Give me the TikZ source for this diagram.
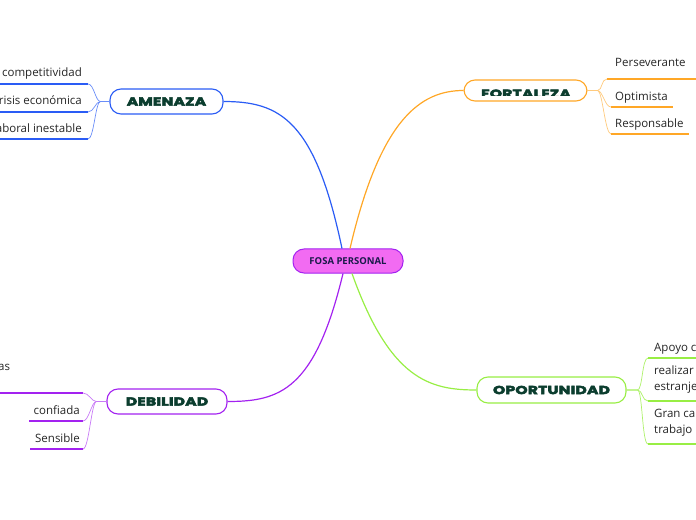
\documentclass[tikz,border=0pt]{standalone}
\usepackage{fontspec}
\setmainfont{Open Sans}
\newfontfamily\headfont[LetterSpace=2,FakeBold=4.5,FakeStretch=1.35]{Poppins}
\definecolor{inkgreen}{HTML}{0B3D2E}
\definecolor{amblue}{HTML}{2A5CF5}
\definecolor{fororange}{HTML}{FFA726}
\definecolor{debpurple}{HTML}{A322F0}
\definecolor{opgreen}{HTML}{98EE44}
\definecolor{centerfill}{HTML}{F26BF2}
\definecolor{navy}{HTML}{1A1A4A}
\begin{document}
\begin{tikzpicture}[x=1bp,y=-1bp,
	topic/.style={draw, line width=1.1bp, fill=white, rounded corners=11bp, inner sep=0pt,
		font=\headfont\bfseries\fontsize{11.5bp}{12bp}\selectfont, text=inkgreen},
	leaf/.style={inner sep=0pt, font=\fontsize{11.5bp}{16bp}\selectfont, text=black!85, align=left},
	branch/.style={line width=1.2bp},
	twig/.style={line width=0.7bp},
	under/.style={line width=1.5bp}
	]
	\useasboundingbox (0,0) rectangle (696,520);
	\clip (0,0) rectangle (696,520);
	% centre
	\node [draw=debpurple, line width=1bp, fill=centerfill, rounded corners=11bp,
		minimum width=110bp, minimum height=24bp, inner sep=0pt,
		font=\bfseries\fontsize{9.5bp}{10bp}\selectfont, text=navy] (fosa) at (348,261) {FOSA PERSONAL};
	% main topics
	\node [topic, draw=amblue, minimum width=113bp, minimum height=25bp] (amenaza) at (166.5,101.5) {AMENAZA};
	\node [topic, draw=fororange, minimum width=123bp, minimum height=21bp] (fortaleza) at (525.5,90.5) {};
	\begin{scope}
		\clip ([shift={(1bp,1bp)}]fortaleza.north west) rectangle (590,96);
		\node [topic, draw=none, fill=none, anchor=north, inner sep=0pt] (fortext) at (526,89) {FORTALEZA};
	\end{scope}
	\node [topic, draw=debpurple, minimum width=120bp, minimum height=25bp] (debilidad) at (167,401.5) {DEBILIDAD};
	\node [topic, draw=opgreen, minimum width=149bp, minimum height=26bp] (oportunidad) at (551.5,390) {OPORTUNIDAD};
	% branches
	\draw [branch, amblue] ([xshift=-6bp]fosa.north) .. controls (315,120) and (280,101.5) .. (amenaza.east);
	\draw [branch, fororange] ([xshift=2bp]fosa.north) .. controls (380,120) and (420,90.5) .. (fortaleza.west);
	\draw [branch, debpurple] ([xshift=-5bp]fosa.south) .. controls (315,390) and (280,401.5) .. (debilidad.east);
	\draw [branch, opgreen] ([xshift=4bp]fosa.south) .. controls (390,380) and (430,390) .. (oportunidad.west);
	% amenaza leaves
	\coordinate (a1) at (88,84);   \coordinate (a1l) at (0,84);
	\coordinate (a2) at (88,112);  \coordinate (a2l) at (0,112);
	\coordinate (a3) at (88,139);  \coordinate (a3l) at (0,139);
	\node [leaf, anchor=base east] (comp) at (82,77) {competitividad};
	\node [leaf, anchor=base east] (crisis) at (82,105) {Crisis económica};
	\node [leaf, anchor=base east] (laboral) at (82,133) {laboral inestable};
	\foreach \e/\l in {a1/a1l, a2/a2l, a3/a3l}
		\draw [under, amblue] (\l) -- (\e);
	\foreach \e in {a1, a2, a3}
		\draw [twig, amblue!70] (amenaza.west) -- ++(-9,0) .. controls +(-5,0) and ([xshift=6bp]\e) .. (\e);
	% fortaleza leaves
	\coordinate (f1) at (607,79);  \coordinate (f1r) at (696,79);
	\coordinate (f2) at (611,107); \coordinate (f2r) at (673,107);
	\coordinate (f3) at (611,134); \coordinate (f3r) at (689,134);
	\node [leaf, anchor=base west] (persev) at (615,67) {Perseverante};
	\node [leaf, anchor=base west] (optim) at (615,101) {Optimista};
	\node [leaf, anchor=base west] (respon) at (615,128) {Responsable};
	\foreach \e/\r in {f1/f1r, f2/f2r, f3/f3r}
		\draw [under, fororange] (\e) -- (\r);
	\foreach \e in {f1, f2, f3}
		\draw [twig, fororange!60] (fortaleza.east) -- ++(10,0) .. controls +(5,0) and ([xshift=-6bp]\e) .. (\e);
	% debilidad leaves
	\coordinate (d1) at (83,393);  \coordinate (d1l) at (0,393);
	\coordinate (d2) at (83,421);  \coordinate (d2l) at (29,421);
	\coordinate (d3) at (83,449);  \coordinate (d3l) at (30,449);
	\node [leaf, anchor=base west] (das) at (-2,370) {as};
	\node [leaf, anchor=base east] (confiada) at (80,414) {confiada};
	\node [leaf, anchor=base east] (sensible) at (80,442) {Sensible};
	\foreach \e/\l in {d1/d1l, d2/d2l, d3/d3l}
		\draw [under, debpurple] (\l) -- (\e);
	\foreach \e in {d1, d2, d3}
		\draw [twig, debpurple!60] (debilidad.west) -- ++(-10,0) .. controls +(-5,0) and ([xshift=6bp]\e) .. (\e);
	% oportunidad leaves
	\coordinate (o1) at (648,358); \coordinate (o1r) at (696,358);
	\coordinate (o2) at (648,401); \coordinate (o2r) at (696,401);
	\coordinate (o3) at (648,444); \coordinate (o3r) at (696,444);
	\node [leaf, anchor=base west] (apoyo) at (654,351) {Apoyo c};
	\node [leaf, anchor=north west] (realizar) at (654,366) {realizar\\estranje};
	\node [leaf, anchor=north west] (gran) at (654,409) {Gran ca\\trabajo};
	\foreach \e/\r in {o1/o1r, o2/o2r, o3/o3r}
		\draw [under, opgreen] (\e) -- (\r);
	\foreach \e in {o1, o2, o3}
		\draw [twig, opgreen!80] (oportunidad.east) -- ++(11,0) .. controls +(5,0) and ([xshift=-6bp]\e) .. (\e);
\end{tikzpicture}
\end{document}
